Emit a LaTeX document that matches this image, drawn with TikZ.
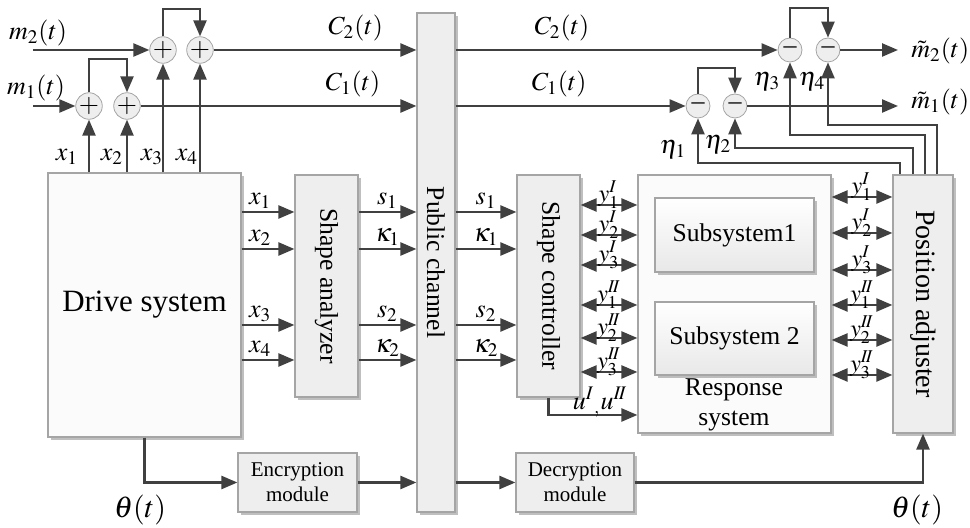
\documentclass[tikz,border=0pt]{standalone}
\usepackage{mathptmx}
\usepackage{fontspec}
\setmainfont{Liberation Serif}
\usepackage{tikz}
\usetikzlibrary{arrows.meta,shadows,calc}
\definecolor{linegray}{RGB}{64,64,64}
\definecolor{boxline}{RGB}{165,165,165}
\definecolor{boxfill}{RGB}{238,238,238}

\begin{document}
\begin{tikzpicture}[
	x=0.5pt, y=-0.5pt,
	>={Triangle[length=8pt,width=6.5pt]},
	con/.style={->, draw=linegray, line width=1.2pt},
	bicon/.style={<->, draw=linegray, line width=1.2pt},
	block/.style={draw=boxline, fill=boxfill, line width=0.6pt, inner sep=0pt,
		drop shadow={shadow xshift=1.5pt, shadow yshift=-1.5pt, fill=black!50, opacity=0.5},
		font=\fontsize{12.8}{15}\selectfont},
	subblock/.style={block, top color=white, bottom color=gray!18},
	sum/.style={circle, draw=boxline, fill=boxfill, minimum size=12pt, inner sep=0pt,
		font=\fontsize{13}{13}\selectfont},
	lab/.style={inner sep=1pt, font=\fontsize{13}{15}\selectfont},
	ylab/.style={inner sep=0pt, font=\fontsize{12}{14}\selectfont}]
	\useasboundingbox (0,0) rectangle (970,528);
	% blocks
	\node[block, fill=gray!3, minimum width=96.5pt, minimum height=132pt] (drive) at (144.5,305) {\fontsize{15.5}{18}\selectfont Drive system};
	\node[block, minimum width=31.5pt, minimum height=111pt] (shana) at (326.5,286) {\rotatebox{-90}{Shape analyzer}};
	\node[block, minimum width=19pt, minimum height=249.5pt] (public) at (436,262.5) {\rotatebox{-90}{Public channel}};
	\node[block, minimum width=31.5pt, minimum height=111pt] (shcon) at (548.5,286) {\rotatebox{-90}{Shape controller}};
	\node[block, fill=gray!3, minimum width=96.5pt, minimum height=129pt] (resp) at (734.5,304) {};
	\node[subblock, minimum width=79.5pt, minimum height=37pt] (sub1) at (734.5,235) {Subsystem1};
	\node[subblock, minimum width=79.5pt, minimum height=36.5pt] (sub2) at (734.5,338.5) {Subsystem 2};
	\node[align=center, inner sep=0pt, font=\fontsize{12.8}{15}\selectfont] (resptext) at (734,405) {Response\\system};
	\node[block, minimum width=30pt, minimum height=129pt] (posadj) at (923,304) {\fontsize{14}{16}\selectfont\rotatebox{-90}{Position adjuster}};
	\node[block, align=center, minimum width=59.5pt, minimum height=29.5pt, font=\fontsize{10.5}{12.5}\selectfont] (enc) at (297.5,482.5) {Encryption\\module};
	\node[block, align=center, minimum width=59pt, minimum height=29.5pt, font=\fontsize{10.5}{12.5}\selectfont] (dec) at (575,482.5) {Decryption\\module};
	% adders and subtractors
	\node[sum] (a1) at (89,106) {$+$};
	\node[sum] (a2) at (127,106) {$+$};
	\node[sum] (b1) at (163,50) {$+$};
	\node[sum] (b2) at (200,50) {$+$};
	\node[sum] (d1) at (698,106) {--};
	\node[sum] (d2) at (735,106) {--};
	\node[sum] (e1) at (790,50) {--};
	\node[sum] (e2) at (828,50) {--};
	% plaintext side
	\coordinate (m2in) at (33,50);
	\coordinate (m1in) at (33,106);
	\node[lab] (m2lab) at (38,33) {$m_2(t)$};
	\node[lab] (m1lab) at (36,88) {$m_1(t)$};
	\draw[con] (m2in) -- (b1.west);
	\draw[con] (m1in) -- (a1.west);
	\draw[con] (a1.north) -- (a1 |- 0,59) -| (a2.north);
	\draw[con] (b1.north) -- (b1 |- 0,9) -| (b2.north);
	\draw[con] (b2.east) -- (public.west |- b2) node[lab, pos=0.7, above=3pt] (c2left) {$C_2(t)$};
	\draw[con] (a2.east) -- (public.west |- a2) node[lab, pos=0.77, above=3pt] (c1left) {$C_1(t)$};
	\draw[con] (drive.north -| a1) -- (a1.south);
	\draw[con] (drive.north -| a2) -- (a2.south);
	\draw[con] (drive.north -| b1) -- (b1.south);
	\draw[con] (drive.north -| b2) -- (b2.south);
	\node[lab] (xa) at (67,157) {$x_1$};
	\node[lab] (xb) at (112,157) {$x_2$};
	\node[lab] (xc) at (152,157) {$x_3$};
	\node[lab] (xd) at (187,157) {$x_4$};
	% ciphertext side
	\coordinate (m2out) at (898,50);
	\coordinate (m1out) at (898,106);
	\draw[con] (public.east |- b2) -- (e1.west) node[lab, pos=0.33, above=3pt] (c2right) {$C_2(t)$};
	\draw[con] (public.east |- a2) -- (d1.west) node[lab, pos=0.45, above=3pt] (c1right) {$C_1(t)$};
	\draw[con] (d1.north) -- (d1 |- 0,68) -| (d2.north);
	\draw[con] (e1.north) -- (e1 |- 0,8) -| (e2.north);
	\draw[con] (e2.east) -- (m2out);
	\draw[con] (d2.east) -- (m1out);
	\node[lab, anchor=west] (m2hat) at (909,51) {$\tilde{m}_2(t)$};
	\node[lab, anchor=west] (m1hat) at (909,102) {$\tilde{m}_1(t)$};
	% key streams from the position adjuster
	\coordinate (t1) at (900,0);
	\coordinate (t2) at (913,0);
	\coordinate (t3) at (925,0);
	\coordinate (t4) at (937,0);
	\draw[con] (posadj.north -| t1) -- (t1 |- 0,163) -| (d1.south);
	\draw[con] (posadj.north -| t2) -- (t2 |- 0,148) -| (d2.south);
	\draw[con] (posadj.north -| t3) -- (t3 |- 0,135) -| (e1.south);
	\draw[con] (posadj.north -| t4) -- (t4 |- 0,125) -| (e2.south);
	\node[lab] (eta1) at (673,150) {$\eta_1$};
	\node[lab] (eta2) at (718,145) {$\eta_2$};
	\node[lab] (eta3) at (767,82) {$\eta_3$};
	\node[lab] (eta4) at (812,82) {$\eta_4$};
	% shape signals
	\foreach \yy/\lab in {212/1, 249/2, 325/3, 360/4}
		\draw[con] (drive.east |- 0,\yy) -- (shana.west |- 0,\yy) node[lab, pos=0.35, above] {$x_{\lab}$};
	\foreach \yy/\lab in {212/s_1, 249/\kappa_1, 325/s_2, 360/\kappa_2}{
		\draw[con] (shana.east |- 0,\yy) -- (public.west |- 0,\yy) node[lab, midway, above] {$\lab$};
		\draw[con] (public.east |- 0,\yy) -- (shcon.west |- 0,\yy) node[lab, midway, above] {$\lab$};
	}
	\foreach \yy/\lab in {205/y_1^{I}, 235/y_2^{I}, 265/y_3^{I}, 305/y_1^{I\!I}, 338/y_2^{I\!I}, 372/y_3^{I\!I}}
		\draw[bicon] (shcon.east |- 0,\yy) -- (resp.west |- 0,\yy) node[ylab, midway, yshift=5pt] {$\lab$};
	\foreach \yy/\lab in {197/y_1^{I}, 233/y_2^{I}, 270/y_3^{I}, 305/y_1^{I\!I}, 340/y_2^{I\!I}, 375/y_3^{I\!I}}
		\draw[bicon] (resp.east |- 0,\yy) -- (posadj.west |- 0,\yy) node[ylab, midway, yshift=5pt] {$\lab$};
	\draw[con] (shcon.south) -- (shcon |- 0,415) -- (resp.west |- 0,415);
	\node[lab] (ulab) at (600,402) {$u^{I}{}_{,}u^{I\!I}$};
	% key channel
	\draw[con] (drive.south) |- (enc.west);
	\draw[con] (enc.east) -- (public.west |- enc.east);
	\draw[con] (public.east |- dec.west) -- (dec.west);
	\draw[con] (dec.east) -| (posadj.south);
	\node[lab, font=\fontsize{15}{17}\selectfont] (thetal) at (140,510) {$\theta(t)$};
	\node[lab, font=\fontsize{15}{17}\selectfont] (thetar) at (917,510) {$\theta(t)$};
\end{tikzpicture}
\end{document}
